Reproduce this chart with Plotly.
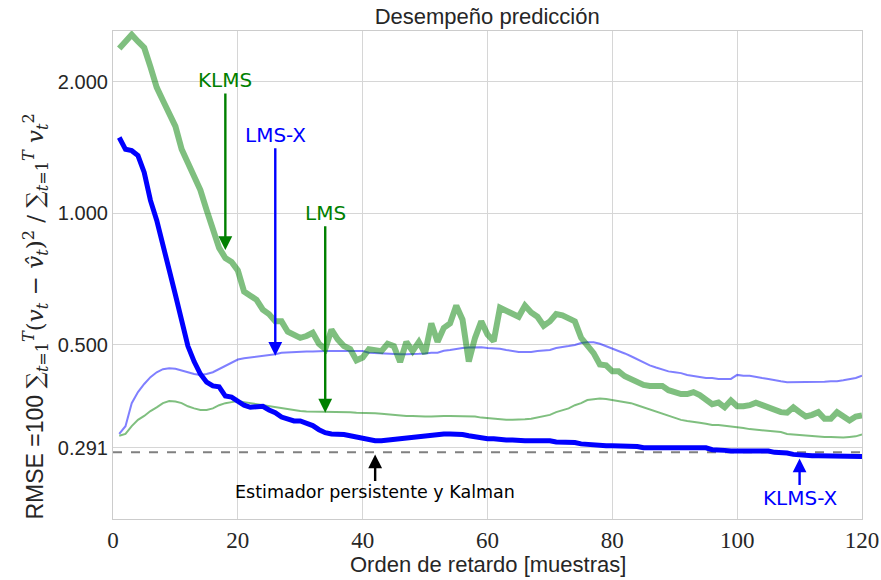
import math
import plotly.graph_objects as go

# ---------------- data ----------------
lags = list(range(1, 121))

klms = [2.38, 2.47, 2.56, 2.47, 2.39, 2.16, 1.94, 1.81, 1.70, 1.58,
        1.40, 1.31, 1.21, 1.13, 1.016, 0.915, 0.833, 0.790, 0.774, 0.740,
        0.662, 0.648, 0.634, 0.602, 0.588, 0.566, 0.566, 0.536, 0.528, 0.519,
        0.524, 0.533, 0.503, 0.489, 0.542, 0.515, 0.497, 0.489, 0.461, 0.468,
        0.489, 0.486, 0.484, 0.503, 0.497, 0.457, 0.508, 0.484, 0.508, 0.478,
        0.560, 0.508, 0.547, 0.560, 0.615, 0.571, 0.458, 0.519, 0.566, 0.528,
        0.510, 0.608, 0.599, 0.593, 0.580, 0.615, 0.593, 0.580, 0.553, 0.566,
        0.588, 0.584, 0.577, 0.566, 0.519, 0.500, 0.479, 0.451, 0.449, 0.435,
        0.435, 0.424, 0.418, 0.414, 0.405, 0.403, 0.403, 0.403, 0.394, 0.390,
        0.386, 0.386, 0.390, 0.384, 0.373, 0.366, 0.369, 0.360, 0.373, 0.362,
        0.362, 0.364, 0.369, 0.364, 0.358, 0.353, 0.351, 0.350, 0.360, 0.351,
        0.343, 0.346, 0.351, 0.339, 0.339, 0.351, 0.343, 0.336, 0.343, 0.345]

klms_x = [1.49, 1.40, 1.39, 1.355, 1.24, 1.07, 0.964, 0.855, 0.742, 0.651,
          0.571, 0.497, 0.458, 0.429, 0.411, 0.403, 0.401, 0.382, 0.380, 0.372,
          0.364, 0.360, 0.360, 0.362, 0.355, 0.350, 0.342, 0.339, 0.335, 0.335,
          0.332, 0.327, 0.320, 0.315, 0.313, 0.313, 0.312, 0.310, 0.308, 0.305,
          0.303, 0.302, 0.302, 0.303, 0.305, 0.306, 0.308, 0.308, 0.310, 0.310,
          0.312, 0.312, 0.313, 0.313, 0.313, 0.312, 0.310, 0.308, 0.306, 0.305,
          0.305, 0.303, 0.303, 0.303, 0.302, 0.302, 0.302, 0.302, 0.302, 0.302,
          0.300, 0.300, 0.299, 0.299, 0.297, 0.296, 0.296, 0.294, 0.294, 0.294,
          0.294, 0.294, 0.294, 0.293, 0.291, 0.291, 0.291, 0.291, 0.291, 0.291,
          0.291, 0.291, 0.291, 0.291, 0.291, 0.288, 0.288, 0.287, 0.286, 0.286,
          0.286, 0.286, 0.286, 0.286, 0.286, 0.284, 0.284, 0.283, 0.281, 0.280,
          0.279, 0.279, 0.279, 0.279, 0.279, 0.279, 0.279, 0.279, 0.278, 0.278]

lms_x = [0.313, 0.326, 0.368, 0.390, 0.407, 0.422, 0.433, 0.440, 0.442, 0.441,
         0.437, 0.433, 0.429, 0.427, 0.429, 0.433, 0.440, 0.449, 0.456, 0.463,
         0.466, 0.468, 0.469, 0.471, 0.473, 0.476, 0.480, 0.481, 0.482, 0.482,
         0.483, 0.483, 0.484, 0.484, 0.484, 0.484, 0.484, 0.484, 0.484, 0.484,
         0.480, 0.479, 0.478, 0.477, 0.477, 0.476, 0.476, 0.476, 0.477, 0.478,
         0.480, 0.480, 0.485, 0.487, 0.490, 0.492, 0.493, 0.494, 0.494, 0.492,
         0.491, 0.490, 0.487, 0.485, 0.482, 0.482, 0.482, 0.484, 0.485, 0.487,
         0.492, 0.494, 0.497, 0.500, 0.505, 0.507, 0.507, 0.503, 0.497, 0.490,
         0.485, 0.478, 0.471, 0.463, 0.456, 0.449, 0.444, 0.440, 0.435, 0.433,
         0.431, 0.427, 0.425, 0.422, 0.420, 0.420, 0.418, 0.418, 0.418, 0.427,
         0.425, 0.425, 0.422, 0.420, 0.418, 0.415, 0.413, 0.411, 0.411, 0.411,
         0.411, 0.411, 0.411, 0.412, 0.413, 0.413, 0.415, 0.418, 0.420, 0.425]

lms = [0.310, 0.313, 0.326, 0.337, 0.344, 0.353, 0.360, 0.368, 0.372, 0.371,
       0.368, 0.362, 0.358, 0.355, 0.355, 0.358, 0.364, 0.368, 0.370, 0.372,
       0.370, 0.368, 0.366, 0.364, 0.362, 0.360, 0.358, 0.357, 0.355, 0.353,
       0.352, 0.352, 0.351, 0.351, 0.351, 0.351, 0.351, 0.351, 0.350, 0.350,
       0.350, 0.349, 0.348, 0.347, 0.346, 0.344, 0.344, 0.344, 0.343, 0.343,
       0.343, 0.344, 0.344, 0.344, 0.344, 0.344, 0.344, 0.343, 0.341, 0.340,
       0.339, 0.337, 0.337, 0.337, 0.337, 0.338, 0.339, 0.341, 0.343, 0.346,
       0.351, 0.355, 0.358, 0.364, 0.368, 0.374, 0.376, 0.377, 0.376, 0.374,
       0.372, 0.370, 0.368, 0.364, 0.360, 0.357, 0.353, 0.348, 0.344, 0.341,
       0.337, 0.335, 0.334, 0.332, 0.330, 0.328, 0.328, 0.327, 0.326, 0.324,
       0.323, 0.321, 0.320, 0.318, 0.317, 0.316, 0.316, 0.313, 0.312, 0.312,
       0.310, 0.309, 0.308, 0.308, 0.308, 0.307, 0.307, 0.308, 0.309, 0.312]

persistente_kalman = 0.284

y_tickvals = [0.291, 0.5, 1.0, 2.0]
y_ticktext = ["0.291", "0.500", "1.000", "2.000"]
x_tickvals = [0, 20, 40, 60, 80, 100, 120]

# annotation anchor points (lag, value)
ann_klms = (18, 0.824)
ann_lmsx = (26, 0.472)
ann_lms = (34, 0.350)
ann_kalman = (42, 0.281)
ann_klmsx = (110, 0.275)

GREEN = "#008000"
BLUE = "#0000ff"
SANS = "Liberation Sans, Arial, sans-serif"
SERIF = "Liberation Serif, DejaVu Serif, serif"
DV = "DejaVu Sans, sans-serif"

fig = go.Figure()

fig.add_trace(go.Scatter(x=[0, 120], y=[persistente_kalman] * 2, mode="lines",
                         line=dict(color="#808080", width=2, dash="dash"),
                         showlegend=False, hoverinfo="skip"))
fig.add_trace(go.Scatter(x=lags, y=lms, mode="lines", name="LMS",
                         line=dict(color="rgba(0,128,0,0.5)", width=2)))
fig.add_trace(go.Scatter(x=lags, y=lms_x, mode="lines", name="LMS-X",
                         line=dict(color="rgba(0,0,255,0.5)", width=2)))
fig.add_trace(go.Scatter(x=lags, y=klms, mode="lines", name="KLMS",
                         line=dict(color="rgba(0,128,0,0.5)", width=6)))
fig.add_trace(go.Scatter(x=lags, y=klms_x, mode="lines", name="KLMS-X",
                         line=dict(color=BLUE, width=5)))


def arrow(pt, text, color, ay, size=20, font=DV):
    # log axis: annotation y is given in log10 units
    fig.add_annotation(x=pt[0], y=math.log10(pt[1]), xref="x", yref="y", text=text,
                       showarrow=True, arrowhead=2, arrowsize=1.15, arrowwidth=2.4,
                       arrowcolor=color, ax=0, ay=ay, standoff=0,
                       font=dict(family=font, size=size, color=color))


arrow(ann_klms, "KLMS", GREEN, -170)
arrow(ann_lmsx, "LMS-X", BLUE, -221)
arrow(ann_lms, "LMS", GREEN, -200)
arrow(ann_kalman, "Estimador persistente y Kalman", "#000000", 38, size=17.5)
arrow(ann_klmsx, "KLMS-X", BLUE, 40)

ylab = ("RMSE =100 <span style='font-family:DejaVu Serif'>∑<sub><i>t</i>=1</sub><sup><i>T</i></sup>"
        "(<i>v</i><sub><i>t</i></sub> − <i>v̂</i><sub><i>t</i></sub>)<sup>2</sup> / "
        "∑<sub><i>t</i>=1</sub><sup><i>T</i></sup> <i>v</i><sub><i>t</i></sub><sup>2</sup></span>")
fig.add_annotation(x=-0.104, y=0.415, xref="paper", yref="paper", text=ylab,
                   textangle=-90, showarrow=False, xanchor="center", yanchor="middle",
                   font=dict(family=SANS, size=23, color="#262626"))

fig.add_annotation(x=0.5, y=-0.094, xref="paper", yref="paper",
                   text="Orden de retardo [muestras]", showarrow=False,
                   xanchor="center", yanchor="middle",
                   font=dict(family=SANS, size=22, color="#262626"))

fig.update_layout(
    width=881, height=580,
    margin=dict(l=113, r=19, t=31, b=61, autoexpand=False),
    paper_bgcolor="white", plot_bgcolor="white",
    showlegend=False,
    title=dict(text="Desempeño predicción", x=0.553, xanchor="center", y=0.972,
               yanchor="middle", font=dict(family=SANS, size=22, color="#262626")),
    xaxis=dict(range=[0, 120], tickvals=x_tickvals, showgrid=True, gridcolor="#d6d6d6",
               gridwidth=1, zeroline=False, showline=True, linecolor="#cccccc",
               linewidth=1.2, mirror=True, ticks="", automargin=False,
               tickfont=dict(family=SERIF, size=23, color="#262626")),
    yaxis=dict(type="log", range=[-0.699, 0.4166], tickvals=y_tickvals,
               ticktext=y_ticktext, showgrid=True, gridcolor="#d6d6d6", gridwidth=1,
               zeroline=False, showline=True, linecolor="#cccccc", linewidth=1.2,
               mirror=True, ticks="", automargin=False,
               tickfont=dict(family=SANS, size=20, color="#262626")),
)

fig.write_html("out.html")
